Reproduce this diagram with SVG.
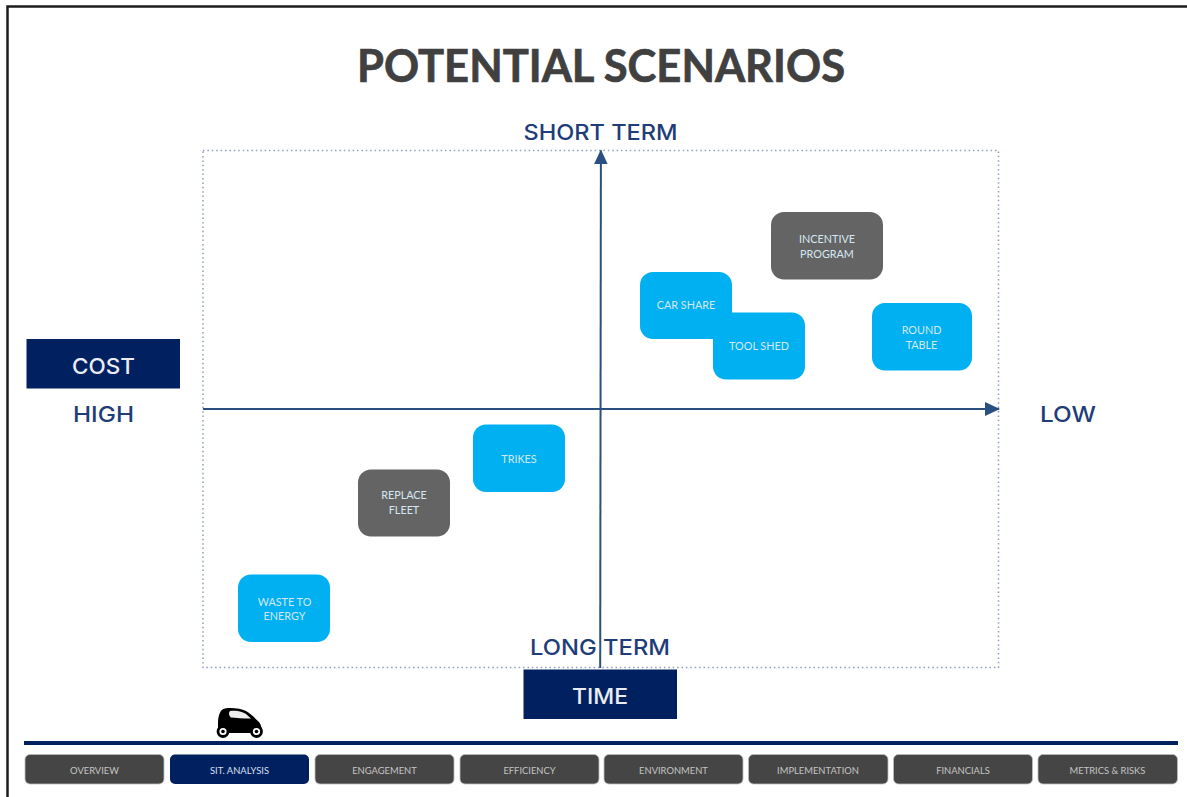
<svg xmlns="http://www.w3.org/2000/svg" width="1187" height="797" viewBox="0 0 1187 797">
<defs>
<marker id="ah" markerUnits="userSpaceOnUse" markerWidth="15" markerHeight="14" refX="14" refY="7" orient="auto"><path d="M0 0L15 7L0 14Z" fill="#2a5082"/></marker>
</defs>
<style>
.t{font-family:"Lato","Open Sans",sans-serif;text-anchor:middle}
.m{font-family:"Inter","Lato",sans-serif;text-anchor:middle;font-weight:500}
.ax{font-size:21.500px;fill:#1f3d78}
.bx{fill:#012060}
.w{font-size:21.500px;fill:#e9edf3}
.blue{fill:#00b0f0}
.gray{fill:#646464}
.n{font-size:10.800px;fill:#d5e8f2}
.nav{fill:#454545;stroke:#bdbdbd;stroke-width:.8}
.nt{font-size:9.400px;fill:#c4c4c4}
.axis{stroke:#2a5082;stroke-width:2;fill:none}
</style>
<rect width="1187" height="797" fill="#fff"/>
<path d="M7.500 797V6.500H1187" fill="none" stroke="#1c1c1c" stroke-width="2.500"/>
<text class="t" x="601" y="82" font-size="45" font-weight="700" fill="#404040" stroke="#404040" stroke-width=".7" textLength="488" lengthAdjust="spacingAndGlyphs">POTENTIAL SCENARIOS</text>
<rect x="203" y="150.500" width="795.500" height="517" fill="none" stroke="#8ba0bc" stroke-width="1.500" stroke-dasharray="1.500 2.900"/>
<g id="connectors">
<path class="axis" d="M600.200 668L600.900 150.500" marker-end="url(#ah)"/>
<path class="axis" d="M203 409H999" marker-end="url(#ah)"/>
</g>
<text class="m ax" x="600.500" y="140" textLength="154" lengthAdjust="spacingAndGlyphs">SHORT TERM</text>
<text class="m ax" x="600" y="655" textLength="140" lengthAdjust="spacingAndGlyphs">LONG TERM</text>
<text class="m ax" x="103.500" y="422" textLength="61" lengthAdjust="spacingAndGlyphs">HIGH</text>
<text class="m ax" x="1068" y="422" textLength="56" lengthAdjust="spacingAndGlyphs">LOW</text>
<g id="cost"><rect class="bx" x="26.500" y="339" width="153.500" height="49.500"/><text class="m w" x="103.500" y="373.500" textLength="63" lengthAdjust="spacingAndGlyphs">COST</text></g>
<g id="time"><rect class="bx" x="523.500" y="669.500" width="153.500" height="49.500"/><text class="m w" x="600" y="704" textLength="56" lengthAdjust="spacingAndGlyphs">TIME</text></g>
<g id="incentive"><rect class="gray" x="771" y="212" width="112" height="67.500" rx="13"/><text class="t n" x="827" y="243">INCENTIVE</text><text class="t n" x="827" y="257.500">PROGRAM</text></g>
<g id="car-share"><rect class="blue" x="640" y="272" width="92" height="67" rx="13"/><text class="t n" x="686" y="309">CAR SHARE</text></g>
<g id="tool-shed"><rect class="blue" x="713" y="312.500" width="92" height="67" rx="13"/><text class="t n" x="759" y="350">TOOL SHED</text></g>
<g id="round-table"><rect class="blue" x="872" y="303" width="100" height="67.500" rx="13"/><text class="t n" x="921.500" y="334">ROUND</text><text class="t n" x="921.500" y="349">TABLE</text></g>
<g id="trikes"><rect class="blue" x="473" y="424.500" width="92" height="67.500" rx="13"/><text class="t n" x="519" y="462.500">TRIKES</text></g>
<g id="replace-fleet"><rect class="gray" x="358" y="469.500" width="92" height="67" rx="13"/><text class="t n" x="404" y="499">REPLACE</text><text class="t n" x="404" y="513.500">FLEET</text></g>
<g id="waste"><rect class="blue" x="238" y="574.500" width="92" height="67.500" rx="13"/><text class="t n" x="284.500" y="605.500">WASTE TO</text><text class="t n" x="284.500" y="620">ENERGY</text></g>
<g id="car">
<path d="M218 732V724C218 716 220 709 225 708.500C232 707.500 241 708.500 246 711C251 714 255 718 259 722C261.500 725 262 729 262 733H218Z" fill="#000"/>
<path d="M229 713C229 711 231 710.800 233 710.800C238 710.500 243 712 246 714L251 718.500C243 718.500 236 718 231 717.500C229.500 716.500 229 714.500 229 713Z" fill="#eee"/>
<circle cx="223" cy="731.500" r="5" fill="#fff" stroke="#000" stroke-width="2.800"/><circle cx="223" cy="731.500" r="1.800" fill="#000"/>
<circle cx="256.500" cy="731.500" r="5" fill="#fff" stroke="#000" stroke-width="2.800"/><circle cx="256.500" cy="731.500" r="1.800" fill="#000"/>
</g>
<rect x="24" y="741" width="1154" height="4" fill="#012060"/>
<g id="nav-overview"><rect class="nav" x="25" y="754.500" width="139" height="29.500" rx="5"/><text class="t nt" x="94.500" y="773.500">OVERVIEW</text></g>
<g id="nav-sit"><rect x="170" y="754.500" width="139" height="29.500" rx="5" fill="#012060"/><text class="t nt" x="239.500" y="773.500" style="fill:#d8e0ee">SIT. ANALYSIS</text></g>
<g id="nav-engagement"><rect class="nav" x="315" y="754.500" width="139" height="29.500" rx="5"/><text class="t nt" x="384.500" y="773.500">ENGAGEMENT</text></g>
<g id="nav-efficiency"><rect class="nav" x="460" y="754.500" width="139" height="29.500" rx="5"/><text class="t nt" x="529.500" y="773.500">EFFICIENCY</text></g>
<g id="nav-environment"><rect class="nav" x="604" y="754.500" width="139" height="29.500" rx="5"/><text class="t nt" x="673.500" y="773.500">ENVIRONMENT</text></g>
<g id="nav-implementation"><rect class="nav" x="748.500" y="754.500" width="139.500" height="29.500" rx="5"/><text class="t nt" x="818" y="773.500">IMPLEMENTATION</text></g>
<g id="nav-financials"><rect class="nav" x="893.500" y="754.500" width="139" height="29.500" rx="5"/><text class="t nt" x="963" y="773.500">FINANCIALS</text></g>
<g id="nav-metrics"><rect class="nav" x="1038" y="754.500" width="139.500" height="29.500" rx="5"/><text class="t nt" x="1107.500" y="773.500">METRICS &amp; RISKS</text></g>
</svg>
